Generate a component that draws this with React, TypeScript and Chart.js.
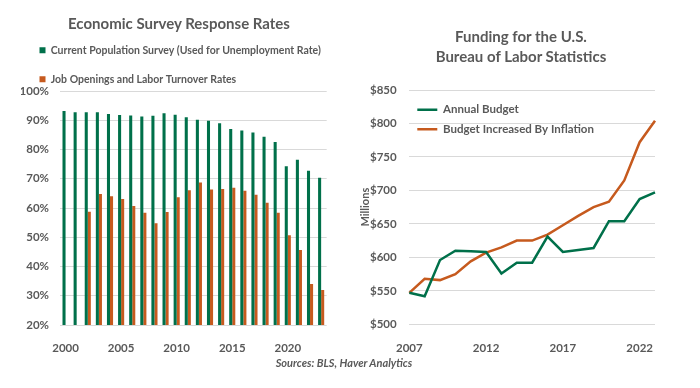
import React, { useEffect, useRef } from 'react';
import { Chart, registerables } from 'chart.js';

Chart.register(...registerables);

// ---- Left chart data: survey response rates (%) ----
const surveyYears = [
  '2000', '2001', '2002', '2003', '2004', '2005', '2006', '2007', '2008', '2009', '2010', '2011',
  '2012', '2013', '2014', '2015', '2016', '2017', '2018', '2019', '2020', '2021', '2022', '2023',
];
const cpsRates = [
  93.2, 92.7, 92.7, 92.7, 92.1, 91.8, 91.6, 91.3, 91.5, 92.4, 91.9, 91.0,
  90.2, 89.8, 89.0, 87.0, 86.5, 85.8, 84.4, 82.6, 74.3, 76.5, 72.7, 70.3,
];
const joltsRates = [
  null, null, 58.7, 64.8, 64.0, 63.1, 60.7, 58.4, 54.8, 58.6, 63.7, 66.1,
  68.7, 66.3, 66.5, 66.9, 65.9, 64.5, 61.8, 58.4, 50.7, 45.6, 34.0, 32.0,
];

// ---- Right chart data: BLS funding ($ millions) ----
const budgetYears = [
  '2007', '2008', '2009', '2010', '2011', '2012', '2013', '2014', '2015',
  '2016', '2017', '2018', '2019', '2020', '2021', '2022', '2023',
];
const annualBudget = [547, 542, 596, 610, 609, 608, 576, 592, 592, 631, 608, 611, 614, 654, 654, 687, 697];
const budgetWithInflation = [547, 568, 566, 575, 594, 607, 615, 625, 625, 634, 648, 662, 675, 683, 715, 772, 804];

const GREEN = '#00704A';
const ORANGE = '#C65A1E';
const TEXT = '#595959';
const GRID = '#D9D9D9';
const FONT = "Lato, 'Open Sans', sans-serif";

export default function App() {
  const leftRef = useRef<HTMLCanvasElement>(null);
  const rightRef = useRef<HTMLCanvasElement>(null);

  useEffect(() => {
    Chart.defaults.font.family = FONT;
    Chart.defaults.color = TEXT;

    const tickFont = { size: 11.5, weight: 'bold', family: FONT };

    const left = new Chart(leftRef.current as HTMLCanvasElement, {
      type: 'bar',
      data: {
        labels: surveyYears,
        datasets: [
          {
            label: 'Current Population Survey (Used for Unemployment Rate)',
            data: cpsRates,
            backgroundColor: GREEN,
            borderWidth: 0,
            categoryPercentage: 0.55,
            barPercentage: 1,
          },
          {
            label: 'Job Openings and Labor Turnover Rates',
            data: joltsRates,
            backgroundColor: ORANGE,
            borderWidth: 0,
            categoryPercentage: 0.55,
            barPercentage: 1,
          },
        ],
      },
      options: {
        responsive: false,
        animation: false,
        layout: { padding: { left: 21, right: 23.3, top: 26.5, bottom: 33 } },
        plugins: {
          title: { display: false },
          tooltip: { enabled: false },
          legend: {
            position: 'top',
            align: 'start',
            maxHeight: 64.5,
            labels: {
              boxWidth: 6,
              boxHeight: 6,
              padding: 18.5,
              color: TEXT,
              font: { size: 10.5, weight: 'bold', family: FONT },
            },
          },
        },
        scales: {
          x: {
            grid: { display: false },
            border: { display: false },
            ticks: {
              autoSkip: false,
              maxRotation: 0,
              padding: 8.8,
              color: TEXT,
              font: tickFont,
              callback: (_v: any, i: number) => (i % 5 === 0 ? surveyYears[i] : ''),
            },
            afterFit: (s: any) => { s.height = 30; },
          },
          y: {
            min: 20,
            max: 100,
            grid: { color: GRID, drawTicks: false },
            border: { display: false },
            ticks: {
              stepSize: 10,
              padding: 11,
              color: TEXT,
              font: tickFont,
              callback: (v: any) => v + '%',
            },
            afterFit: (s: any) => { s.width = 39; },
          },
        },
      },
    } as any);

    const right = new Chart(rightRef.current as HTMLCanvasElement, {
      type: 'line',
      data: {
        labels: budgetYears,
        datasets: [
          {
            label: 'Annual Budget',
            data: annualBudget,
            borderColor: GREEN,
            backgroundColor: GREEN,
            borderWidth: 2.5,
            pointRadius: 0,
            tension: 0,
          },
          {
            label: 'Budget Increased By Inflation',
            data: budgetWithInflation,
            borderColor: ORANGE,
            backgroundColor: ORANGE,
            borderWidth: 2.5,
            pointRadius: 0,
            tension: 0,
          },
        ],
      },
      options: {
        responsive: false,
        animation: false,
        layout: { padding: { left: 0, right: 45, top: 90, bottom: 33.7 } },
        plugins: {
          title: { display: false },
          tooltip: { enabled: false },
          legend: {
            position: 'chartArea',
            align: 'start',
            title: { display: true, text: '', font: { size: 6, lineHeight: 1 }, padding: { top: 90, bottom: 0 } },
            labels: {
              usePointStyle: true,
              pointStyle: 'line',
              pointStyleWidth: 20,
              padding: 8,
              color: TEXT,
              font: { size: 11.5, weight: 'bold', family: FONT },
            },
          },
        },
        scales: {
          x: {
            grid: { display: false },
            border: { display: false },
            ticks: {
              autoSkip: false,
              maxRotation: 0,
              padding: 9,
              color: TEXT,
              font: tickFont,
              callback: (_v: any, i: number) => (i % 5 === 0 ? budgetYears[i] : ''),
            },
            afterFit: (s: any) => { s.height = 30; },
          },
          y: {
            min: 500,
            max: 850,
            grid: { color: GRID, drawTicks: false },
            border: { display: false },
            title: {
              display: true,
              text: 'Millions',
              color: TEXT,
              font: { size: 11, weight: 'bold', family: FONT },
              padding: { top: 8.4, bottom: 0 },
            },
            ticks: {
              stepSize: 50,
              padding: 12.6,
              color: TEXT,
              font: tickFont,
              callback: (v: any) => '$' + v,
            },
            afterFit: (s: any) => { s.width = 59.3; },
          },
        },
      },
    } as any);

    return () => {
      left.destroy();
      right.destroy();
    };
  }, []);

  const titleStyle: React.CSSProperties = {
    position: 'absolute',
    width: 320,
    textAlign: 'center',
    fontFamily: FONT,
    fontWeight: 'bold',
    fontSize: 15,
    lineHeight: '20px',
    color: TEXT,
    whiteSpace: 'nowrap',
  };

  return (
    <div
      style={{
        position: 'fixed',
        left: 0,
        top: 0,
        width: 700,
        height: 388,
        background: '#ffffff',
        overflow: 'hidden',
      }}
    >
      <canvas ref={leftRef} width={350} height={388} style={{ position: 'absolute', left: 0, top: 0 }} />
      <canvas ref={rightRef} width={350} height={388} style={{ position: 'absolute', left: 350, top: 0 }} />
      <div style={{ ...titleStyle, left: 179 - 160, top: 13 }}>Economic Survey Response Rates</div>
      <div style={{ ...titleStyle, left: 521 - 160, top: 26 }}>
        Funding for the U.S.
        <br />
        Bureau of Labor Statistics
      </div>
      <div
        style={{
          position: 'absolute',
          left: 344 - 150,
          top: 353,
          width: 300,
          textAlign: 'center',
          fontFamily: FONT,
          fontStyle: 'italic',
          fontWeight: 'bold',
          fontSize: 11,
          lineHeight: '20px',
          color: TEXT,
        }}
      >
        Sources: BLS, Haver Analytics
      </div>
    </div>
  );
}
